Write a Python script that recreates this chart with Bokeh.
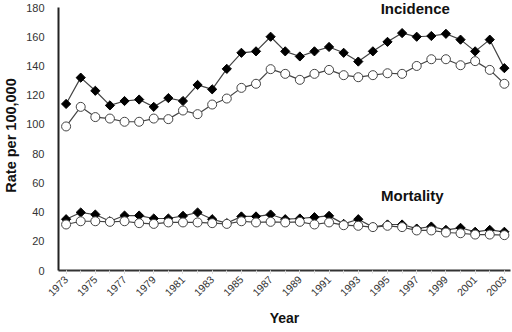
from bokeh.plotting import figure
from bokeh.models import FixedTicker, Range1d, Label
from bokeh.embed import file_html
from bokeh.resources import INLINE
import math

years = list(range(1973, 2004))
incidence_a = [114, 132, 123, 113, 116, 117, 112, 118, 116, 127, 124, 138, 149, 150, 160,
               150, 146.5, 150, 153, 149, 143, 150, 156.5, 162.5, 160, 160.5, 162, 158, 150, 158, 138.5]
incidence_b = [98.6, 112, 105, 104, 101.8, 101.8, 104, 103.6, 109.5, 107, 113.6, 117.7, 125, 127.8, 137.8,
               134.6, 130.5, 134.6, 137.3, 133.7, 132.3, 133.7, 135, 134.6, 140, 144.6, 144.6, 140.5, 143.3, 137.3, 127.8]
mortality_a = [35.1, 39.7, 38.3, 33.7, 37.6, 37.6, 35.6, 35.6, 37.4, 39.7, 35.1, 32.4, 37, 37, 38.3,
               35.1, 35.6, 36.5, 37.4, 31.9, 35.1, 29.7, 31.5, 31.5, 28.7, 30.1, 27.8, 29.2, 26.5, 27.8, 26.5]
mortality_b = [31.5, 33.7, 33.7, 33.3, 33.7, 32.4, 31.9, 32.9, 32.9, 32.9, 32.4, 31.9, 33.7, 32.9, 33.3,
               32.9, 33.3, 31.5, 32.9, 31, 30.6, 29.7, 30.6, 29.7, 27.4, 27.4, 26, 25.5, 24.6, 24.6, 24.2]
major_years = list(range(1973, 2004, 2))
y_ticks = list(range(0, 181, 20))
label_texts = ["Incidence", "Mortality"]
label_x = [1996.9, 1996.7]
label_y = [179, 51.3]

FONT = "Liberation Sans"

p = figure(width=512, height=332, output_backend="svg", toolbar_location=None,
           x_range=Range1d(1972.48, 2003.42), y_range=Range1d(0, 184.8),
           min_border_left=55, min_border_right=2, min_border_top=0, min_border_bottom=62)
p.outline_line_color = None
p.xgrid.visible = False
p.ygrid.visible = False
p.background_fill_color = "white"
p.border_fill_color = "white"

# Axes
p.xaxis.ticker = FixedTicker(ticks=major_years, minor_ticks=years)
p.xaxis.major_label_orientation = math.pi / 4
p.xaxis.major_label_text_font = FONT
p.xaxis.major_label_text_font_size = "10.5px"
p.xaxis.major_label_text_color = "#333333"
p.xaxis.axis_line_width = 2
p.xaxis.axis_line_color = "#333333"
p.xaxis.major_tick_in = 0
p.xaxis.major_tick_out = 3
p.xaxis.major_tick_line_color = "#bbbbbb"
p.xaxis.minor_tick_in = 0
p.xaxis.minor_tick_out = 3
p.xaxis.minor_tick_line_color = "#dddddd"
p.xaxis.major_label_standoff = 4
p.xaxis.axis_label = "Year"
p.xaxis.axis_label_text_font = FONT
p.xaxis.axis_label_text_font_style = "bold"
p.xaxis.axis_label_text_font_size = "14px"
p.xaxis.axis_label_text_color = "#111111"
p.xaxis.axis_label_standoff = 7

p.yaxis.ticker = FixedTicker(ticks=y_ticks)
p.yaxis.bounds = (0, 180)
p.yaxis.major_label_text_font = FONT
p.yaxis.major_label_text_font_size = "11px"
p.yaxis.major_label_text_color = "#333333"
p.yaxis.axis_line_width = 2
p.yaxis.axis_line_color = "#222222"
p.yaxis.major_tick_line_color = None
p.yaxis.minor_tick_line_color = None
p.yaxis.major_label_standoff = 8
p.yaxis.axis_label = "Rate per 100,000"
p.yaxis.axis_label_text_font = FONT
p.yaxis.axis_label_text_font_style = "bold"
p.yaxis.axis_label_text_font_size = "14.5px"
p.yaxis.axis_label_text_color = "#111111"
p.yaxis.axis_label_standoff = 4

line_col = "#444444"
for ys, filled in [(incidence_a, True), (incidence_b, False), (mortality_a, True), (mortality_b, False)]:
    p.line(years, ys, line_color=line_col, line_width=1.2)
    if filled:
        p.scatter(years, ys, marker="square", angle=math.pi / 4, size=6.5,
                  fill_color="black", line_color="black")
    else:
        p.scatter(years, ys, marker="circle", size=9, fill_color="white", line_color="#444444", line_width=1)

for t, x, y in zip(label_texts, label_x, label_y):
    p.add_layout(Label(x=x, y=y, text=t, text_align="center", text_baseline="middle",
                       text_font=FONT, text_font_style="bold", text_font_size="15px",
                       text_color="#111111"))

open("out.html", "w").write(file_html(p, INLINE))
